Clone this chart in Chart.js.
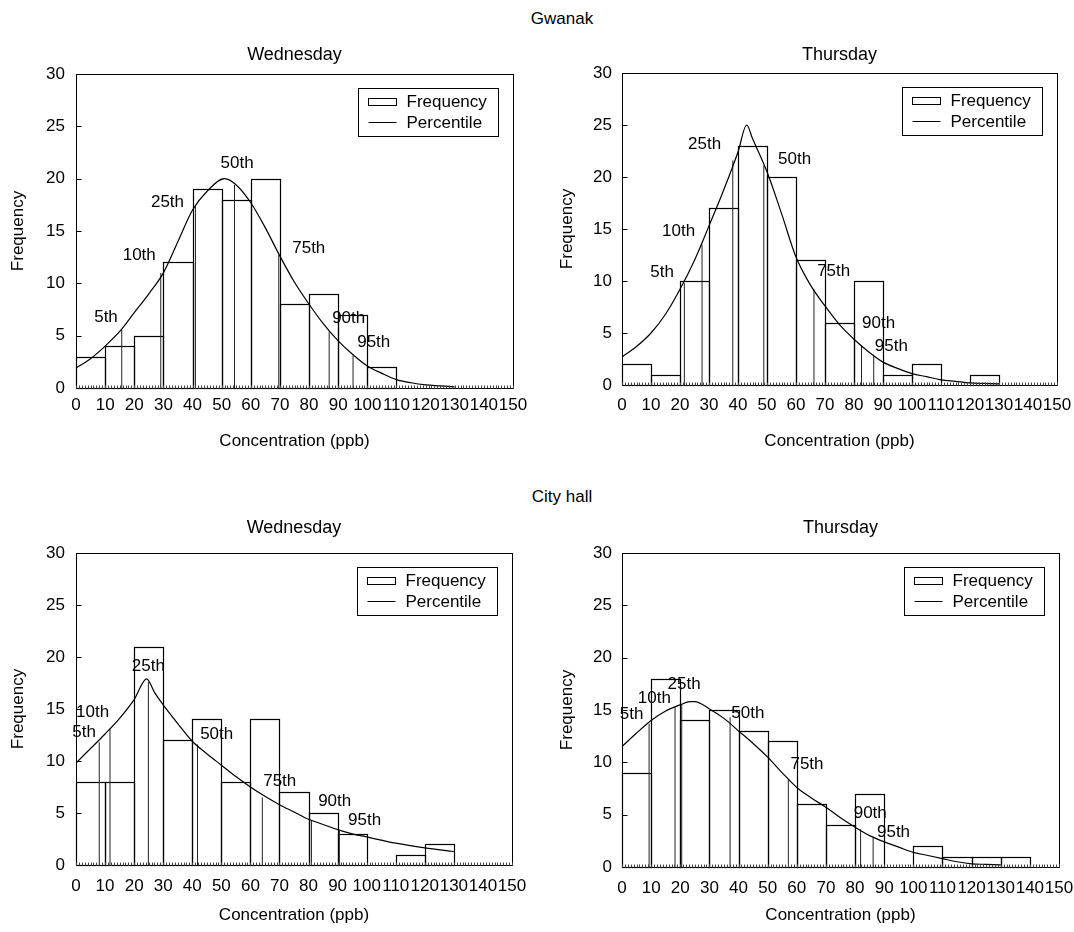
<!DOCTYPE html>
<html>
<head>
<meta charset="utf-8">
<script src="https://cdn.jsdelivr.net/npm/chart.js@4.4.1/dist/chart.umd.min.js"></script>
<style>
html,body{margin:0;padding:0;background:#fff;overflow:hidden;}
#wrap{position:relative;width:1074px;height:932px;background:#fff;overflow:hidden;font-family:"Liberation Sans",Arial,Helvetica,sans-serif;color:#000;}
.grp{position:absolute;width:200px;text-align:center;font-size:17px;line-height:20px;}
canvas{position:absolute;}
</style>
</head>
<body>
<div id="wrap">
  <div class="grp" style="left:462px;top:9px;">Gwanak</div>
  <div class="grp" style="left:462px;top:487px;">City hall</div>
  <canvas id="c1" width="537" height="430" style="left:0px;top:30px;"></canvas>
  <canvas id="c2" width="537" height="430" style="left:537px;top:30px;"></canvas>
  <canvas id="c3" width="537" height="462" style="left:0px;top:470px;"></canvas>
  <canvas id="c4" width="537" height="462" style="left:537px;top:470px;"></canvas>
</div>
<script>
// ---------- shared axis values ----------
const xTickValues = [0,10,20,30,40,50,60,70,80,90,100,110,120,130,140,150];
const yTickValues = [0,5,10,15,20,25,30];
const binCenters = [5,15,25,35,45,55,65,75,85,95,105,115,125,135,145];
const percentileNames = ['5th','10th','25th','50th','75th','90th','95th'];
const legendNames = ['Frequency','Percentile'];

// ---------- Gwanak, Wednesday ----------
const gwWedFreq = [3,4,5,12,19,18,20,8,9,7,2,0,0,0,0];
const gwWedCurveX = [0,5,10,15,20,25,30,35,40,45,51,55,60,65,70,75,80,85,90,95,100,105,110,115,120,125,130];
const gwWedCurveY = [1.9,2.8,4.0,5.4,7.2,9.0,11.0,14.0,17.0,18.8,20.0,19.4,17.7,15.3,12.6,10.1,8.0,6.1,4.5,3.2,2.1,1.4,0.8,0.5,0.3,0.2,0.1];
const gwWedPctX = [15.7,29.1,41.0,54.4,69.6,86.9,95.1];
const gwWedPctY = [5.6,11.0,17.5,19.4,12.7,5.4,3.1];
const gwWedLabelX = [10.3,21.7,31.4,55.3,79.9,93.6,102.2];
const gwWedLabelY = [6.8,12.7,17.7,21.5,13.3,6.7,4.4];

// ---------- Gwanak, Thursday ----------
const gwThuFreq = [2,1,10,17,23,20,12,6,10,1,2,0,1,0,0];
const gwThuCurveX = [0,5,10,15,20,25,30,35,40,43,45,50,55,60,65,70,75,80,85,90,95,100,105,110,115,120,125,130];
const gwThuCurveY = [2.7,3.7,5.0,6.8,9.2,12.0,15.3,18.7,22.4,25.0,23.7,20.5,16.5,12.3,9.6,7.6,5.8,4.4,3.2,2.2,1.6,1.1,0.8,0.5,0.35,0.2,0.15,0.1];
const gwThuPctX = [21.5,27.6,38.2,48.9,66.2,82.6,86.8];
const gwThuPctY = [9.8,13.5,21.6,21.1,9.2,3.8,2.9];
const gwThuLabelX = [13.8,19.5,28.5,59.5,73.0,88.5,92.9];
const gwThuLabelY = [10.8,14.8,23.1,21.7,10.9,5.9,3.7];

// ---------- City hall, Wednesday ----------
const chWedFreq = [8,8,21,12,14,8,14,7,5,3,0,1,2,0,0];
const chWedCurveX = [0,5,10,15,20,24.3,27,30,35,40,45,50,55,60,65,70,75,80,85,90,95,100,110,120,130];
const chWedCurveY = [9.8,11.2,12.6,14.1,15.9,17.9,16.6,15.4,13.6,11.9,10.7,9.6,8.5,7.5,6.6,5.8,5.1,4.4,3.9,3.4,3.0,2.7,2.1,1.65,1.3];
const chWedPctX = [8.0,11.7,24.9,41.8,64.1,81.0,90.6];
const chWedPctY = [11.8,13.1,17.6,11.6,6.5,4.3,3.3];
const chWedLabelX = [2.8,5.7,24.9,48.4,70.1,89.0,99.3];
const chWedLabelY = [12.8,14.7,19.1,12.6,8.0,6.1,4.3];

// ---------- City hall, Thursday ----------
const chThuFreq = [9,18,14,15,13,12,6,4,7,0,2,1,1,1,0];
const chThuCurveX = [0,5,10,15,20,23.3,25,30,35,40,45,50,55,60,65,70,75,80,85,90,95,100,105,110,115,120,125,130];
const chThuCurveY = [11.5,12.8,14.0,14.9,15.5,15.8,15.8,15.1,14.2,13.0,11.8,10.5,9.0,7.6,6.6,5.7,4.7,3.8,3.0,2.4,1.9,1.4,1.1,0.8,0.5,0.3,0.25,0.2];
const chThuPctX = [9.3,18.2,20.5,37.1,57.1,81.9,86.2];
const chThuPctY = [13.7,15.3,15.5,14.3,8.4,3.6,2.9];
const chThuLabelX = [3.3,11.1,21.3,43.2,63.5,85.2,93.2];
const chThuLabelY = [14.6,16.1,17.5,14.7,9.8,5.1,3.3];

const FONT = '"Liberation Sans", Arial, Helvetica, sans-serif';

// ---------- plugins ----------
const barOutline = {
  id: 'barOutline',
  afterDatasetDraw(chart, args) {
    if (args.meta.type !== 'bar') return;
    const ctx = chart.ctx;
    ctx.save();
    ctx.strokeStyle = '#000';
    ctx.lineWidth = 1.2;
    args.meta.data.forEach((el, i) => {
      const v = chart.data.datasets[args.index].data[i].y;
      if (!v) return;
      const p = el.getProps(['x','y','base','width'], true);
      const l = Math.round(p.x - p.width / 2) + 0.5;
      const r = Math.round(p.x + p.width / 2) + 0.5;
      const t = Math.round(p.y) + 0.5;
      const b = Math.round(p.base) + 0.5;
      ctx.strokeRect(l, t, r - l, b - t);
    });
    ctx.restore();
  }
};

const frameAndTicks = {
  id: 'frameAndTicks',
  afterDatasetsDraw(chart) {
    const {ctx, chartArea: a, scales: {x, y}} = chart;
    ctx.save();
    ctx.strokeStyle = '#000';
    ctx.lineWidth = 1;
    const L = Math.round(a.left) + 0.5, R = Math.round(a.right) + 0.5;
    const T = Math.round(a.top) + 0.5, B = Math.round(a.bottom) + 0.5;
    ctx.strokeRect(L, T, R - L, B - T);
    ctx.beginPath();
    yTickValues.forEach(v => {
      const py = Math.round(y.getPixelForValue(v)) + 0.5;
      ctx.moveTo(L, py); ctx.lineTo(L + 5, py);
    });
    ctx.stroke();
    ctx.strokeStyle = '#444';
    ctx.beginPath();
    for (let v = 0; v <= 150; v += 1) {
      const px = Math.round(x.getPixelForValue(v)) + 0.5;
      ctx.moveTo(px, B); ctx.lineTo(px, B - 3);
    }
    ctx.stroke();
    ctx.restore();
  }
};

const pctLabels = {
  id: 'pctLabels',
  afterDatasetsDraw(chart, args, opts) {
    const {ctx, scales: {x, y}} = chart;
    ctx.save();
    ctx.fillStyle = '#000';
    ctx.font = '17px ' + FONT;
    ctx.textAlign = 'center';
    ctx.textBaseline = 'middle';
    opts.names.forEach((n, i) => {
      ctx.fillText(n, x.getPixelForValue(opts.lx[i]), y.getPixelForValue(opts.ly[i]));
    });
    ctx.restore();
  }
};

const boxLegend = {
  id: 'boxLegend',
  afterDraw(chart) {
    const {ctx, chartArea: a} = chart;
    const w = 140, h = 48;
    const bx = Math.round(a.right - 15 - w) + 0.5;
    const by = Math.round(a.top + 14) + 0.5;
    ctx.save();
    ctx.fillStyle = '#fff';
    ctx.fillRect(bx, by, w, h);
    ctx.strokeStyle = '#000';
    ctx.lineWidth = 1;
    ctx.strokeRect(bx, by, w, h);
    ctx.strokeRect(bx + 10, by + 10, 28, 7);
    ctx.beginPath();
    ctx.moveTo(bx + 10, by + 34); ctx.lineTo(bx + 38, by + 34);
    ctx.stroke();
    ctx.fillStyle = '#000';
    ctx.font = '17px ' + FONT;
    ctx.textAlign = 'left';
    ctx.textBaseline = 'middle';
    ctx.fillText(legendNames[0], bx + 48, by + 14);
    ctx.fillText(legendNames[1], bx + 48, by + 35);
    ctx.restore();
  }
};

function makePanel(id, title, freq, cx, cy, px, py, lx, ly, lay) {
  const canvas = document.getElementById(id);
  const W = canvas.width, H = canvas.height;
  const barData = binCenters.map((c, i) => ({x: c, y: freq[i]}));
  const curveData = cx.map((v, i) => ({x: v, y: cy[i]}));
  const pctData = [];
  px.forEach((v, i) => {
    pctData.push({x: v, y: 0}, {x: v, y: py[i]}, {x: v, y: null});
  });
  new Chart(canvas.getContext('2d'), {
    type: 'bar',
    data: {
      datasets: [
        {type: 'line', label: legendNames[1], data: curveData, borderColor: '#000', borderWidth: 1.2,
         pointRadius: 0, fill: false, cubicInterpolationMode: 'monotone', order: 1},
        {type: 'line', label: 'percentile marks', data: pctData, borderColor: '#222', borderWidth: 1,
         pointRadius: 0, fill: false, spanGaps: false, tension: 0, order: 2},
        {type: 'bar', label: legendNames[0], data: barData, backgroundColor: 'rgba(255,255,255,0)',
         borderWidth: 0, barPercentage: 1, categoryPercentage: 1, order: 3}
      ]
    },
    options: {
      responsive: false, animation: false, devicePixelRatio: 1,
      layout: {padding: {left: 0, right: W - lay.r, top: 0, bottom: 0}},
      plugins: {
        legend: {display: false},
        tooltip: {enabled: false},
        title: {display: true, fullSize: false, text: title, color: '#000',
                font: {family: FONT, size: 18, weight: 'normal'},
                padding: {top: lay.titleY - 10.8, bottom: lay.t - (lay.titleY - 10.8) - 21.6}},
        pctLabels: {names: percentileNames, lx: lx, ly: ly}
      },
      scales: {
        x: {
          type: 'linear', min: 0, max: 150, offset: false,
          grid: {display: false, drawTicks: false}, border: {display: false},
          ticks: {autoSkip: false, maxRotation: 0, minRotation: 0, color: '#000',
                  font: {family: FONT, size: 17}, padding: lay.xPad},
          afterBuildTicks: s => { s.ticks = xTickValues.map(v => ({value: v})); },
          afterFit: s => { s.height = H - lay.b; s.paddingLeft = 0; s.paddingRight = 0; },
          title: {display: true, text: 'Concentration (ppb)', color: '#000',
                  font: {family: FONT, size: 17}, padding: {top: 0, bottom: H - lay.xTitleY - 10.2}}
        },
        y: {
          min: 0, max: 30,
          grid: {display: false, drawTicks: false}, border: {display: false},
          ticks: {color: '#000', font: {family: FONT, size: 17}, padding: lay.yPad},
          afterBuildTicks: s => { s.ticks = yTickValues.map(v => ({value: v})); },
          afterFit: s => { s.width = lay.l; },
          title: {display: true, text: 'Frequency', color: '#000',
                  font: {family: FONT, size: 17}, padding: {top: lay.yTitleX - 10.2, bottom: 0}}
        }
      }
    },
    plugins: [barOutline, frameAndTicks, pctLabels, boxLegend]
  });
}

makePanel('c1', 'Wednesday', gwWedFreq, gwWedCurveX, gwWedCurveY, gwWedPctX, gwWedPctY, gwWedLabelX, gwWedLabelY,
  {l: 76, t: 44, r: 513, b: 358, titleY: 25, xPad: 7, xTitleY: 411, yPad: 11, yTitleX: 18});
makePanel('c2', 'Thursday', gwThuFreq, gwThuCurveX, gwThuCurveY, gwThuPctX, gwThuPctY, gwThuLabelX, gwThuLabelY,
  {l: 85, t: 43, r: 520, b: 355, titleY: 25, xPad: 10, xTitleY: 411, yPad: 10, yTitleX: 30});
makePanel('c3', 'Wednesday', chWedFreq, chWedCurveX, chWedCurveY, chWedPctX, chWedPctY, chWedLabelX, chWedLabelY,
  {l: 76, t: 83, r: 512, b: 395, titleY: 58, xPad: 11, xTitleY: 445, yPad: 11, yTitleX: 18});
makePanel('c4', 'Thursday', chThuFreq, chThuCurveX, chThuCurveY, chThuPctX, chThuPctY, chThuLabelX, chThuLabelY,
  {l: 85, t: 83, r: 522, b: 397, titleY: 58, xPad: 11, xTitleY: 445, yPad: 10, yTitleX: 30});
</script>
</body>
</html>
